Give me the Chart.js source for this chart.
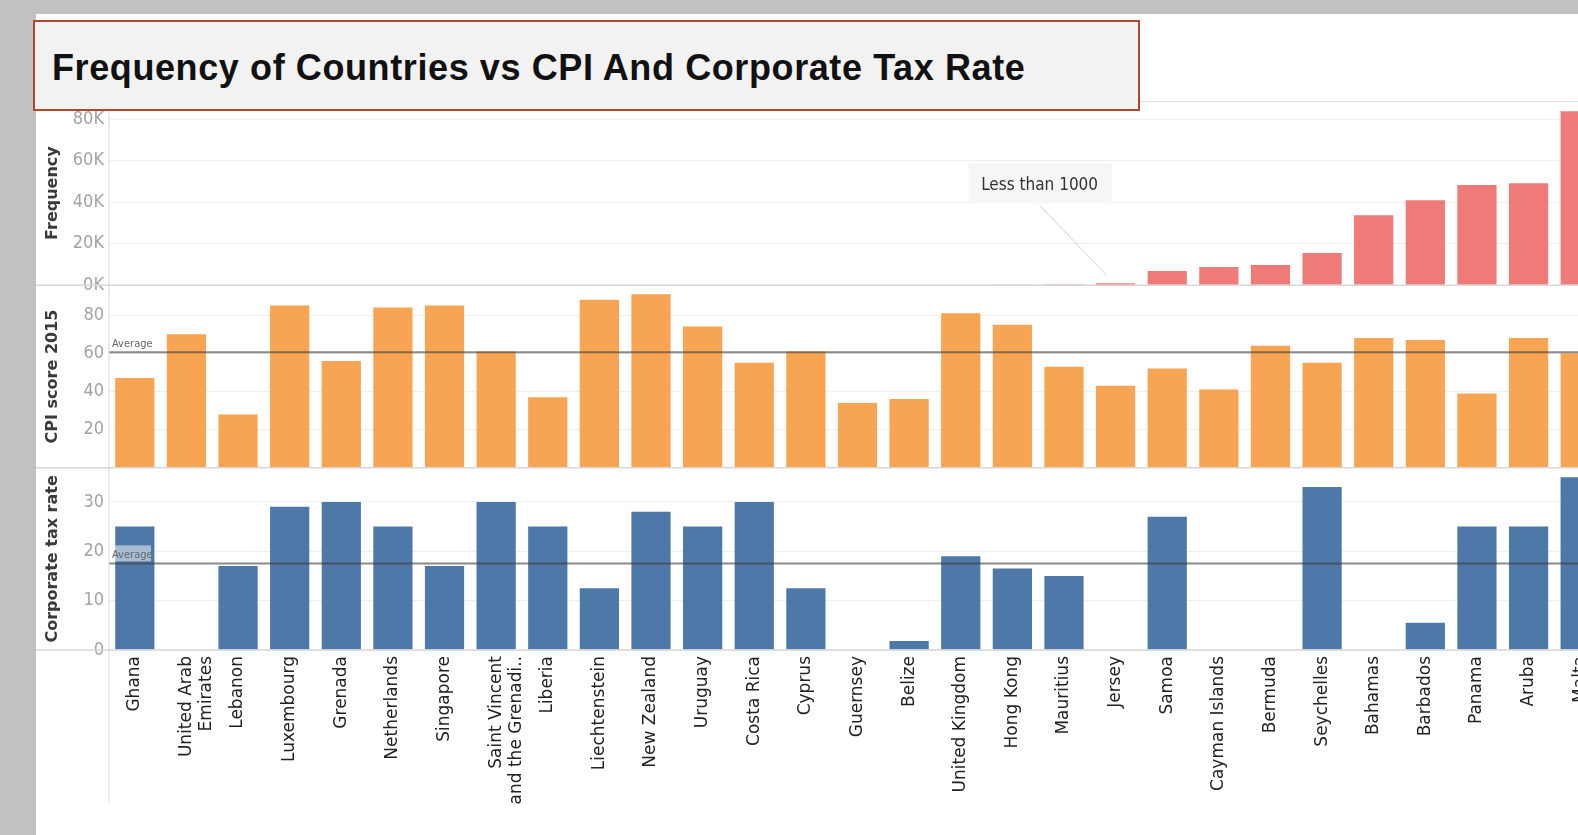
<!DOCTYPE html>
<html>
<head>
<meta charset="utf-8">
<title>Frequency of Countries vs CPI And Corporate Tax Rate</title>
<script src="https://cdn.jsdelivr.net/npm/chart.js@4.4.1/dist/chart.umd.min.js"></script>
<style>
    html, body {
        margin: 0;
        padding: 0;
        width: 1578px;
        height: 835px;
        overflow: hidden;
        background: #c1c1c1;
    }
    #panel {
        position: absolute;
        left: 36px;
        top: 14px;
        width: 1542px;
        height: 821px;
        background: #fff;
        overflow: hidden;
    }
    #chartWrap {
        position: absolute;
        left: 0;
        top: 87px;
        width: 1570px;
        height: 734px;
    }
    #title {
        position: absolute;
        left: 33px;
        top: 20px;
        width: 1107px;
        height: 91px;
        box-sizing: border-box;
        border: 2px solid #b4462a;
        background: #f2f2f2;
        z-index: 2;
        font-family: "Liberation Sans", Arial, sans-serif;
        font-weight: bold;
        font-size: 36px;
        letter-spacing: 0.6px;
        color: #111;
        line-height: 87px;
        padding-left: 17px;
        white-space: nowrap;
    }
    #title span {
        position: relative;
        top: 2px;
    }
</style>
</head>
<body>
<div id="title"><span>Frequency of Countries vs CPI And Corporate Tax Rate</span></div>
<div id="panel">
    <div id="chartWrap">
        <canvas id="mainChart" width="1570" height="734"></canvas>
    </div>
</div>

<script>
// Countries, sorted by frequency (ascending)
const countries = [
    'Ghana', ['United Arab', 'Emirates'], 'Lebanon', 'Luxembourg', 'Grenada',
    'Netherlands', 'Singapore', ['Saint Vincent', 'and the Grenadi..'], 'Liberia',
    'Liechtenstein', 'New Zealand', 'Uruguay', 'Costa Rica', 'Cyprus', 'Guernsey',
    'Belize', 'United Kingdom', 'Hong Kong', 'Mauritius', 'Jersey', 'Samoa',
    'Cayman Islands', 'Bermuda', 'Seychelles', 'Bahamas', 'Barbados', 'Panama',
    'Aruba', 'Malta'
];

// Frequency (number of records)
const frequency = [
    0, 0, 0, 0, 0,
    0, 0, 0, 0,
    0, 0, 0, 0, 0, 0,
    0, 0, 300, 400, 900, 6800,
    8700, 9700, 15500, 33700, 41000, 48300,
    49200, 83900
];

// CPI score 2015
const cpiScore = [
    47, 70, 28, 85, 56,
    84, 85, 61, 37,
    88, 91, 74, 55, 61, 34,
    36, 81, 75, 53, 43, 52,
    41, 64, 55, 68, 67, 39,
    68, 60
];

// Corporate tax rate (%)
const taxRate = [
    25, 0, 17, 29, 30,
    25, 17, 30, 25,
    12.5, 28, 25, 30, 12.5, 0,
    1.8, 19, 16.5, 15, 0, 27,
    0, 0, 33, 0, 5.5, 25,
    25, 35
];

// Axis ticks
const freqTicks = [0, 20000, 40000, 60000, 80000];
const cpiTicks = [0, 20, 40, 60, 80];
const taxTicks = [0, 10, 20, 30];

const annotationCountry = 'Jersey';
const annotationText = 'Less than 1000';

const average = arr => arr.reduce((a, b) => a + b, 0) / arr.length;

const tickFont = { family: '"Liberation Sans Narrow", "DejaVu Sans Condensed", sans-serif', size: 18 };
const titleFont = { family: '"DejaVu Sans", sans-serif', size: 16, weight: 'bold' };

/**
 * Horizontal pane separators and the left header line
 */
const paneLines = {
    id: 'paneLines',
    afterDraw(chart) {
        const ctx = chart.ctx;
        const area = chart.chartArea;
        const yT = chart.scales.yTax;
        ctx.save();
        ctx.strokeStyle = '#d7d7d7';
        ctx.lineWidth = 1.5;
        [chart.scales.yFreq.top, chart.scales.yCpi.top, yT.top, yT.bottom].forEach(y => {
            ctx.beginPath();
            ctx.moveTo(0, y);
            ctx.lineTo(chart.width, y);
            ctx.stroke();
        });
        ctx.lineWidth = 1;
        ctx.beginPath();
        ctx.moveTo(area.left, 0);
        ctx.lineTo(area.left, 702);
        ctx.stroke();
        ctx.restore();
    }
};

/**
 * Average reference lines for CPI and tax panes
 */
const averageLines = {
    id: 'averageLines',
    afterDatasetsDraw(chart) {
        const ctx = chart.ctx;
        const area = chart.chartArea;
        const lines = [
            { scale: chart.scales.yCpi, value: average(cpiScore) },
            { scale: chart.scales.yTax, value: average(taxRate) }
        ];
        ctx.save();
        lines.forEach(l => {
            const y = l.scale.getPixelForValue(l.value);
            ctx.strokeStyle = 'rgba(60, 60, 60, 0.6)';
            ctx.lineWidth = 2;
            ctx.beginPath();
            ctx.moveTo(area.left, y);
            ctx.lineTo(area.right, y);
            ctx.stroke();

            ctx.fillStyle = 'rgba(255, 255, 255, 0.5)';
            ctx.fillRect(area.left + 2, y - 18, 40, 16);
            ctx.fillStyle = '#666';
            ctx.font = '11px "Liberation Sans Narrow", "DejaVu Sans Condensed", sans-serif';
            ctx.textBaseline = 'alphabetic';
            ctx.textAlign = 'left';
            ctx.fillText('Average', area.left + 3, y - 5);
        });
        ctx.restore();
    }
};

/**
 * Callout pointing at the small frequency bars
 */
const freqCallout = {
    id: 'freqCallout',
    afterDatasetsDraw(chart) {
        const ctx = chart.ctx;
        const idx = countries.indexOf(annotationCountry);
        const x = chart.scales.x.getPixelForValue(idx);
        const y = chart.scales.yFreq.getPixelForValue(frequency[idx]);
        ctx.save();
        ctx.strokeStyle = '#d0d0d0';
        ctx.lineWidth = 1;
        ctx.beginPath();
        ctx.moveTo(x - 76, y - 78);
        ctx.lineTo(x - 9, y - 8);
        ctx.stroke();

        ctx.fillStyle = '#f6f6f6';
        ctx.fillRect(x - 147, y - 120, 143, 40);
        ctx.fillStyle = '#333';
        ctx.font = '17px "Liberation Sans Narrow", "DejaVu Sans Condensed", sans-serif';
        ctx.textAlign = 'center';
        ctx.textBaseline = 'middle';
        ctx.fillText(annotationText, x - 76, y - 98);
        ctx.restore();
    }
};

function fixAxisWidth(scale) {
    scale.width = 73;
    scale.paddingTop = 0;
    scale.paddingBottom = 0;
}

function makeYAxis(opts) {
    return {
        type: 'linear',
        position: 'left',
        stack: 'panes',
        stackWeight: opts.weight,
        min: 0,
        max: opts.max,
        border: { display: false },
        grid: { color: '#efefef', drawTicks: false, lineWidth: 1 },
        ticks: {
            padding: 5,
            color: '#a3a3a3',
            font: tickFont,
            callback: opts.format
        },
        title: {
            display: true,
            text: opts.title,
            color: '#3a3a3a',
            font: titleFont,
            padding: { top: 7, bottom: 0 }
        },
        afterBuildTicks(scale) {
            scale.ticks = opts.ticks.map(v => ({ value: v }));
        },
        afterFit: fixAxisWidth
    };
}

const ctx = document.getElementById('mainChart');

window.mainChart = new Chart(ctx, {
    type: 'bar',
    data: {
        labels: countries,
        datasets: [
            {
                label: 'Frequency',
                data: frequency,
                yAxisID: 'yFreq',
                backgroundColor: '#ef7b78'
            },
            {
                label: 'CPI score 2015',
                data: cpiScore,
                yAxisID: 'yCpi',
                backgroundColor: '#f7a553'
            },
            {
                label: 'Corporate tax rate',
                data: taxRate,
                yAxisID: 'yTax',
                backgroundColor: '#4e78a7'
            }
        ]
    },
    options: {
        responsive: false,
        animation: false,
        devicePixelRatio: 1,
        layout: { padding: 0 },
        datasets: {
            bar: {
                grouped: false,
                categoryPercentage: 1,
                barPercentage: 0.76
            }
        },
        plugins: {
            legend: { display: false },
            tooltip: { enabled: false }
        },
        scales: {
            x: {
                type: 'category',
                border: { display: false },
                grid: { display: false, drawTicks: false },
                ticks: {
                    autoSkip: false,
                    minRotation: 90,
                    maxRotation: 90,
                    padding: 6,
                    color: '#222',
                    font: { family: '"DejaVu Sans", sans-serif', size: 17 }
                },
                afterFit(scale) {
                    scale.height = 185;
                    scale.paddingLeft = 0;
                    scale.paddingRight = 0;
                }
            },
            yTax: makeYAxis({
                weight: 182,
                max: 36.9,
                ticks: taxTicks,
                title: 'Corporate tax rate',
                format: v => v
            }),
            yCpi: makeYAxis({
                weight: 182.5,
                max: 95.7,
                ticks: cpiTicks,
                title: 'CPI score 2015',
                format: v => (v === 0 ? '' : v)
            }),
            yFreq: makeYAxis({
                weight: 184,
                max: 88800,
                ticks: freqTicks,
                title: 'Frequency',
                format: v => (v / 1000) + 'K'
            })
        }
    },
    plugins: [paneLines, averageLines, freqCallout]
});
</script>
</body>
</html>
